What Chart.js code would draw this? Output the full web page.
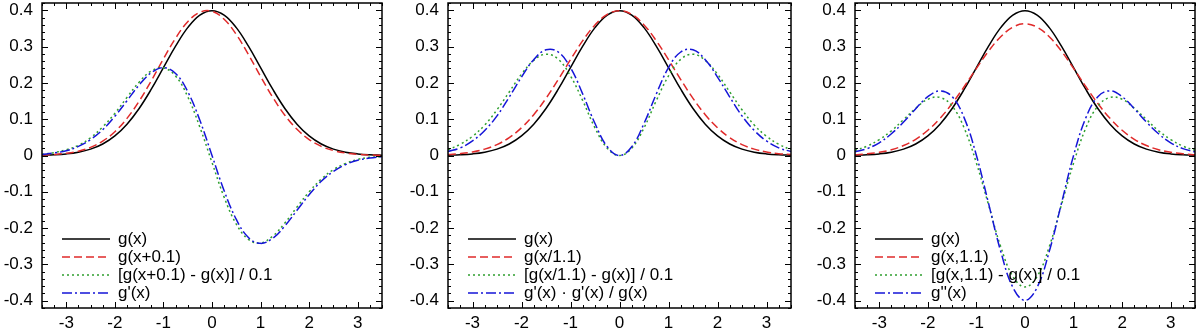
<!DOCTYPE html>
<html>
<head>
<meta charset="utf-8">
<script src="https://cdn.jsdelivr.net/npm/chart.js@4.4.0/dist/chart.umd.min.js"></script>
<style>
  html, body { margin: 0; padding: 0; background: #fff; }
  .panel { position: absolute; top: 0; height: 331px; }
</style>
</head>
<body>
<div class="panel" style="left:0;width:390px"><canvas id="c1"></canvas></div>
<div class="panel" style="left:400px;width:400px"><canvas id="c2"></canvas></div>
<div class="panel" style="left:805px;width:395px"><canvas id="c3"></canvas></div>
<script>
// shared x grid
const xValues = [-3.5,-3.25,-3,-2.75,-2.5,-2.25,-2,-1.75,-1.5,-1.25,-1,-0.75,-0.5,-0.25,0,
  0.25,0.5,0.75,1,1.25,1.5,1.75,2,2.25,2.5,2.75,3,3.25,3.5];
const xTicks = [-3, -2, -1, 0, 1, 2, 3];
const yTicks = [-0.4, -0.3, -0.2, -0.1, 0, 0.1, 0.2, 0.3, 0.4];

// g(x), same in every panel
const g = [0.0009,0.0020,0.0044,0.0091,0.0175,0.0317,0.0540,0.0863,0.1295,0.1826,0.2420,0.3011,0.3521,0.3867,0.3989,
  0.3867,0.3521,0.3011,0.2420,0.1826,0.1295,0.0863,0.0540,0.0317,0.0175,0.0091,0.0044,0.0020,0.0009];

// panel 1
const gShift = [0.0012,0.0028,0.0060,0.0119,0.0224,0.0396,0.0656,0.1023,0.1497,0.2059,0.2661,0.3230,0.3683,0.3945,0.3970,
  0.3752,0.3332,0.2780,0.2179,0.1604,0.1109,0.0721,0.0440,0.0252,0.0136,0.0069,0.0033,0.0015,0.0006];
const gShiftDiff = [0.003,0.008,0.016,0.028,0.049,0.079,0.116,0.160,0.202,0.233,0.241,0.219,0.162,0.078,-0.019,
  -0.115,-0.189,-0.231,-0.241,-0.222,-0.186,-0.142,-0.100,-0.065,-0.039,-0.022,-0.011,-0.005,-0.003];
const gPrime = [0.003,0.007,0.013,0.025,0.044,0.071,0.108,0.151,0.194,0.228,0.242,0.226,0.176,0.097,0,
  -0.097,-0.176,-0.226,-0.242,-0.228,-0.194,-0.151,-0.108,-0.071,-0.044,-0.025,-0.013,-0.007,-0.003];

// panel 2
const gScaled = [0.0025,0.0051,0.0097,0.0175,0.0301,0.0492,0.0764,0.1125,0.1574,0.2091,0.2639,0.3162,0.3597,0.3887,0.3989,
  0.3887,0.3597,0.3162,0.2639,0.2091,0.1574,0.1125,0.0764,0.0492,0.0301,0.0175,0.0097,0.0051,0.0025];
const gScaledDiff = [0.016,0.031,0.053,0.084,0.126,0.175,0.224,0.262,0.279,0.265,0.219,0.151,0.076,0.020,0,
  0.020,0.076,0.151,0.219,0.265,0.279,0.262,0.224,0.175,0.126,0.084,0.053,0.031,0.016];
const gPrimeSq = [0.011,0.021,0.040,0.069,0.109,0.161,0.216,0.264,0.291,0.285,0.242,0.169,0.088,0.024,0,
  0.024,0.088,0.169,0.242,0.285,0.291,0.264,0.216,0.161,0.109,0.069,0.040,0.021,0.011];

// panel 3
const gWide = [0.0023,0.0046,0.0088,0.0159,0.0274,0.0447,0.0695,0.1023,0.1431,0.1901,0.2399,0.2875,0.3270,0.3534,0.3627,
  0.3534,0.3270,0.2875,0.2399,0.1901,0.1431,0.1023,0.0695,0.0447,0.0274,0.0159,0.0088,0.0046,0.0023];
const gWideDiff = [0.014,0.026,0.044,0.068,0.099,0.130,0.155,0.160,0.136,0.075,-0.021,-0.136,-0.251,-0.333,-0.362,
  -0.333,-0.251,-0.136,-0.021,0.075,0.136,0.160,0.155,0.130,0.099,0.068,0.044,0.026,0.014];
const gSecond = [0.010,0.019,0.035,0.060,0.092,0.129,0.162,0.178,0.162,0.103,0,-0.132,-0.264,-0.363,-0.399,
  -0.363,-0.264,-0.132,0,0.103,0.162,0.178,0.162,0.129,0.092,0.060,0.035,0.019,0.010];

const legend1 = ['g(x)', 'g(x+0.1)', '[g(x+0.1) - g(x)] / 0.1', "g'(x)"];
const legend2 = ['g(x)', 'g(x/1.1)', '[g(x/1.1) - g(x)] / 0.1', "g'(x) \u00B7 g'(x) / g(x)"];
const legend3 = ['g(x)', 'g(x,1.1)', '[g(x,1.1) - g(x)] / 0.1', "g''(x)"];

const FONT = 'Liberation Sans, Arial, Helvetica, sans-serif';
const styles = [
  { color: '#000000', dash: [] },
  { color: '#e02a2a', dash: [8, 4] },
  { color: '#2f9f2f', dash: [2, 3] },
  { color: '#1515d8', dash: [10, 3, 2, 3] }
];

function fmt(v) {
  const r = Math.round(v * 10) / 10;
  if (r === 0) return '0';
  return String(r);
}

// inward ticks on all four sides, tick labels, frame and legend
const framePlugin = {
  id: 'frame',
  afterDatasetsDraw(chart) {
    const { ctx, chartArea: a, scales } = chart;
    const xs = scales.x, ys = scales.y;
    ctx.save();
    ctx.strokeStyle = '#000';
    ctx.lineWidth = 1;
    ctx.setLineDash([]);
    ctx.beginPath();
    for (let v = -3.5; v <= 3.5001; v += 0.25) {
      const px = Math.round(xs.getPixelForValue(v)) + 0.5;
      const len = Math.abs(v - Math.round(v)) < 1e-6 ? 6 : 3;
      ctx.moveTo(px, a.bottom); ctx.lineTo(px, a.bottom - len);
      ctx.moveTo(px, a.top); ctx.lineTo(px, a.top + len);
    }
    for (let i = -21; i <= 21; i++) {
      const v = i * 0.02;
      const py = Math.round(ys.getPixelForValue(v)) + 0.5;
      const len = i % 5 === 0 ? 6 : 3;
      ctx.moveTo(a.left, py); ctx.lineTo(a.left + len, py);
      ctx.moveTo(a.right, py); ctx.lineTo(a.right - len, py);
    }
    ctx.stroke();
    ctx.lineWidth = 1.5;
    ctx.strokeRect(a.left, a.top, a.right - a.left, a.bottom - a.top);

    // tick labels
    ctx.fillStyle = '#000';
    ctx.font = '17px ' + FONT;
    ctx.textBaseline = 'middle';
    ctx.textAlign = 'right';
    yTicks.forEach(v => ctx.fillText(fmt(v), a.left - 9, ys.getPixelForValue(v)));
    ctx.textAlign = 'center';
    xTicks.forEach(v => ctx.fillText(fmt(v), xs.getPixelForValue(v), a.bottom + 15));

    // legend
    const labels = chart.options.plugins.frame.labels;
    ctx.font = '17px ' + FONT;
    ctx.textAlign = 'left';
    labels.forEach((t, i) => {
      const y = a.bottom - 69 + i * 18;
      ctx.strokeStyle = styles[i].color;
      ctx.lineWidth = 1.5;
      ctx.setLineDash(styles[i].dash);
      ctx.beginPath();
      ctx.moveTo(a.left + 20, y);
      ctx.lineTo(a.left + 68, y);
      ctx.stroke();
      ctx.fillStyle = '#000';
      ctx.fillText(t, a.left + 76, y);
    });
    ctx.restore();
  }
};

function makeChart(id, series, labels, yWidth, padRight) {
  const datasets = series.map((vals, i) => ({
    data: vals.map((y, k) => ({ x: xValues[k], y })),
    borderColor: styles[i].color,
    borderDash: styles[i].dash,
    borderWidth: 1.5,
    pointRadius: 0,
    tension: 0.4,
    fill: false,
    order: 4 - i
  }));
  return new Chart(document.getElementById(id), {
    type: 'line',
    data: { datasets },
    options: {
      responsive: true,
      maintainAspectRatio: false,
      animation: false,
      layout: { padding: { top: 3, right: padRight, bottom: 0, left: 0 } },
      plugins: {
        legend: { display: false },
        tooltip: { enabled: false },
        frame: { labels }
      },
      scales: {
        x: {
          type: 'linear',
          min: -3.5,
          max: 3.5,
          afterBuildTicks: s => { s.ticks = xTicks.map(v => ({ value: v })); },
          afterFit: s => { s.height = 23; },
          grid: { display: false, drawTicks: false },
          border: { display: false },
          ticks: { display: false }
        },
        y: {
          min: -0.42,
          max: 0.42,
          afterBuildTicks: s => { s.ticks = yTicks.map(v => ({ value: v })); },
          afterFit: s => { s.width = yWidth; },
          grid: { display: false, drawTicks: false },
          border: { display: false },
          ticks: { display: false }
        }
      }
    },
    plugins: [framePlugin]
  });
}

makeChart('c1', [g, gShift, gShiftDiff, gPrime], legend1, 42, 8);
makeChart('c2', [g, gScaled, gScaledDiff, gPrimeSq], legend2, 48, 9);
makeChart('c3', [g, gWide, gWideDiff, gSecond], legend3, 50, 5);
</script>
</body>
</html>
